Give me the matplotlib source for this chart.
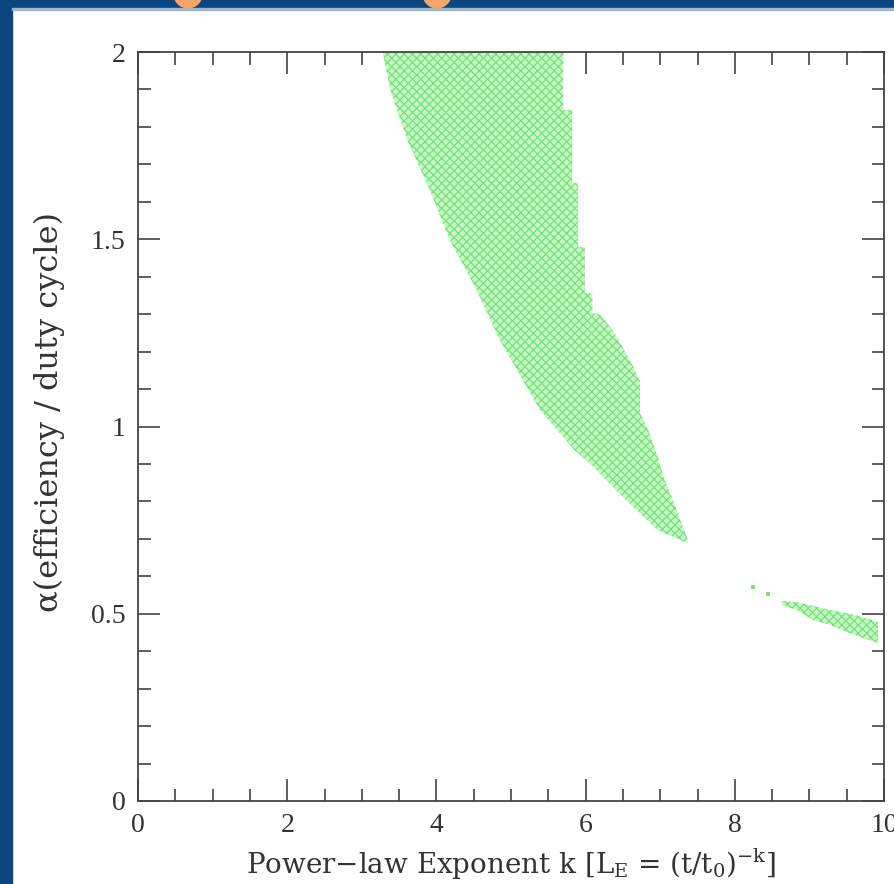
import numpy as np
import matplotlib
matplotlib.use("Agg")
import matplotlib.pyplot as plt
from matplotlib.patches import Rectangle, Circle
from matplotlib.ticker import MultipleLocator

# ---------------- data ----------------
# main allowed region: left boundary (alpha, k) from top to bottom
left_alpha = [2.00, 1.90, 1.765, 1.632, 1.498, 1.364, 1.231, 1.151, 1.044, 0.991, 0.937, 0.903, 0.812, 0.724, 0.689]
left_k     = [3.28, 3.38, 3.61, 3.91, 4.18, 4.54, 4.85, 5.08, 5.39, 5.62, 5.85, 6.05, 6.50, 6.96, 7.36]
# right boundary (alpha, k) from top to bottom
right_alpha = [2.00, 1.845, 1.845, 1.65, 1.65, 1.479, 1.479, 1.356, 1.356, 1.303, 1.30, 1.255, 1.21, 1.167, 1.12, 1.036, 0.99, 0.918, 0.857, 0.804, 0.75, 0.697]
right_k     = [5.70, 5.70, 5.82, 5.82, 5.90, 5.90, 5.99, 5.99, 6.09, 6.09, 6.19, 6.37, 6.50, 6.62, 6.73, 6.73, 6.84, 6.97, 7.06, 7.17, 7.27, 7.37]

# second (high-k) band
band_k     = [8.63, 8.83, 9.05, 9.28, 9.50, 9.72, 9.92]
band_upper = [0.534, 0.531, 0.521, 0.510, 0.502, 0.491, 0.478]
band_lower = [0.523, 0.510, 0.483, 0.470, 0.451, 0.435, 0.422]

# isolated allowed points
iso_k     = [8.24, 8.45]
iso_alpha = [0.571, 0.553]

xticks = [0, 2, 4, 6, 8, 10]
yticks = [0, 0.5, 1, 1.5, 2]
ytick_labels = ["0", "0.5", "1", "1.5", "2"]

# ---------------- style ----------------
plt.rcParams["font.family"] = ["Liberation Serif", "DejaVu Serif"]
plt.rcParams["mathtext.fontset"] = "custom"
plt.rcParams["mathtext.rm"] = "DejaVu Serif"
plt.rcParams["mathtext.it"] = "DejaVu Serif:italic"
plt.rcParams["hatch.linewidth"] = 0.8

W, H = 895, 884
fig = plt.figure(figsize=(W / 100, H / 100), dpi=100)
fig.patch.set_facecolor("white")

# decorative frame (slide background)
blue = "#0b4680"
fig.patches.append(Rectangle((0, 0), 12 / W, 1, transform=fig.transFigure, color=blue, zorder=0))
fig.patches.append(Rectangle((0, 1 - 8 / H), 1, 8 / H, transform=fig.transFigure, color=blue, zorder=0))
fig.patches.append(Rectangle((12 / W, 1 - 10 / H), 1, 2 / H, transform=fig.transFigure, color="#9fb6cf", zorder=0))
for cx in (188, 437):
    fig.patches.append(Circle((cx / W, 1 + 6 / H), 14 / W, transform=fig.transFigure,
                              color="#f5a66a", zorder=1))

ax = fig.add_axes([138 / W, 1 - 801 / H, 746 / W, 749 / H])
ax.set_xlim(0, 10)
ax.set_ylim(0, 2)

fill_face = "#c6f5c6"
hatch_col = "#6ee26e"

poly_k = np.concatenate([left_k, right_k[::-1]])
poly_a = np.concatenate([left_alpha, right_alpha[::-1]])
ax.fill(poly_k, poly_a, facecolor=fill_face, edgecolor=hatch_col, hatch="xxxx", linewidth=0, zorder=2)

ax.fill_between(band_k, band_lower, band_upper, facecolor=fill_face, edgecolor=hatch_col,
                hatch="xxxx", linewidth=0, zorder=2)
ax.scatter(iso_k, iso_alpha, marker="s", s=10, color="#7be27b", linewidths=0, zorder=2)

# ticks
ax.set_xticks(xticks)
ax.set_xticklabels([str(t) for t in xticks])
ax.set_yticks(yticks)
ax.set_yticklabels(ytick_labels)
ax.xaxis.set_minor_locator(MultipleLocator(0.5))
ax.yaxis.set_minor_locator(MultipleLocator(0.1))
ax.tick_params(which="both", direction="in", top=True, right=True, colors="#333333",
               labelcolor="#333333", labelsize=20, width=1.1)
ax.tick_params(which="major", length=16, pad=9)
ax.tick_params(which="minor", length=9)
for s in ax.spines.values():
    s.set_color("#444444")
    s.set_linewidth(1.3)

ax.set_xlabel(r"Power$-$law Exponent k [L$_\mathrm{E}$ = (t/t$_0$)$^{-\mathrm{k}}$]",
              fontsize=20, color="#333333", labelpad=6, family=["DejaVu Serif"])
ax.set_ylabel("α(efficiency / duty cycle)", fontsize=23, color="#333333",
              family=["DejaVu Serif"])
ax.yaxis.set_label_coords(-0.098, 0.519)

fig.savefig("out.png", dpi=100)
